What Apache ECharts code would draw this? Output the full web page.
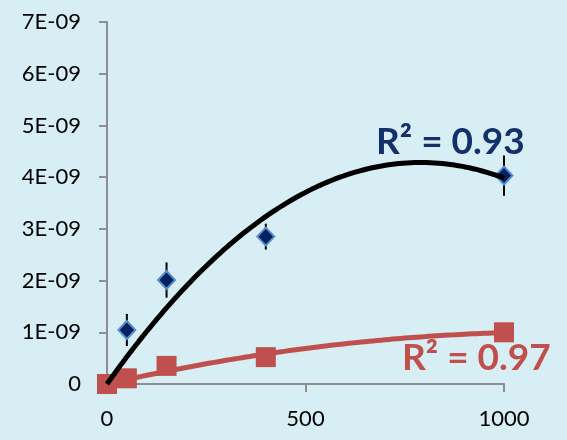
<!DOCTYPE html>
<html>
<head>
<meta charset="utf-8">
<script src="https://cdn.jsdelivr.net/npm/echarts@6/dist/echarts.min.js"></script>
<style>
  html, body { margin: 0; padding: 0; background: #D7EEF4; }
  #chart { width: 567px; height: 440px; }
</style>
</head>
<body>
<div id="chart"></div>
<script>
// Concentration levels (x) shared by both series
const xValues = [0, 50, 150, 400, 1000];

// Blue series: measured values with symmetric error
const blueValues = [0, 1.045e-9, 2.01e-9, 2.85e-9, 4.03e-9];
const blueErrors = [0, 0.31e-9, 0.34e-9, 0.25e-9, 0.39e-9];

// Red series: measured values
const redValues = [0, 0.11e-9, 0.35e-9, 0.52e-9, 1.0e-9];

// Trendline annotations
const blueR2Text = 'R² = 0.93';
const redR2Text = 'R² = 0.97';

// Axis settings
const xTicks = { min: 0, max: 1000, interval: 500 };
const yTicks = { min: 0, max: 7e-9, interval: 1e-9 };

const FONT = 'Lato';

// Least-squares fit of y = b x + c x^2 (intercept fixed at zero)
function quadFitZero(xs, ys) {
  let s2 = 0, s3 = 0, s4 = 0, t1 = 0, t2 = 0;
  for (let i = 0; i < xs.length; i++) {
    const x = xs[i], y = ys[i];
    s2 += x * x; s3 += x * x * x; s4 += x * x * x * x;
    t1 += x * y; t2 += x * x * y;
  }
  const det = s2 * s4 - s3 * s3;
  const b = (t1 * s4 - s3 * t2) / det;
  const c = (s2 * t2 - s3 * t1) / det;
  return [b, c];
}

function trendPoints(xs, ys) {
  const [b, c] = quadFitZero(xs, ys);
  const x0 = Math.min(...xs), x1 = Math.max(...xs);
  const pts = [];
  const n = 200;
  for (let i = 0; i <= n; i++) {
    const x = x0 + (x1 - x0) * i / n;
    pts.push([x, b * x + c * x * x]);
  }
  return pts;
}

function sciLabel(v) {
  if (Math.abs(v) < 1e-15) return '0';
  const parts = v.toExponential(0).split('e');
  const e = parseInt(parts[1], 10);
  return parts[0] + 'E' + (e < 0 ? '-' : '+') + String(Math.abs(e)).padStart(2, '0');
}

const bluePts = xValues.map((x, i) => [x, blueValues[i]]);
const redPts = xValues.map((x, i) => [x, redValues[i]]);
const errData = xValues.map((x, i) => [x, blueValues[i], blueErrors[i]]);

const chart = echarts.init(document.getElementById('chart'), null, { renderer: 'canvas' });

const axisLine = { show: true, lineStyle: { color: '#8E8E8E', width: 2 } };
const axisTick = { show: true, inside: false, length: 8, lineStyle: { color: '#8E8E8E', width: 2 } };

chart.setOption({
  backgroundColor: '#D7EEF4',
  animation: false,
  grid: { left: 107, top: 22, width: 397, height: 362, containLabel: false },
  xAxis: {
    type: 'value',
    min: xTicks.min, max: xTicks.max, interval: xTicks.interval,
    axisLine, axisTick,
    splitLine: { show: false },
    axisLabel: { color: '#000', fontFamily: FONT, fontSize: 22, margin: 24, formatter: v => String(v) }
  },
  yAxis: {
    type: 'value',
    min: yTicks.min, max: yTicks.max, interval: yTicks.interval,
    axisLine, axisTick,
    splitLine: { show: false },
    axisLabel: { color: '#000', fontFamily: FONT, fontSize: 22, margin: 26, formatter: sciLabel }
  },
  series: [
    {
      name: 'red trend', type: 'line', z: 2,
      data: trendPoints(xValues, redValues),
      showSymbol: false, smooth: false,
      lineStyle: { color: '#C0504D', width: 5 }
    },
    {
      name: 'blue error', type: 'custom', z: 3,
      data: errData,
      renderItem: function (params, api) {
        const x = api.value(0), y = api.value(1), e = api.value(2);
        if (!e) return null;
        const p1 = api.coord([x, y - e]);
        const p2 = api.coord([x, y + e]);
        return {
          type: 'line',
          shape: { x1: p1[0], y1: p1[1], x2: p2[0], y2: p2[1] },
          style: { stroke: '#000', lineWidth: 2 }
        };
      }
    },
    {
      name: 'blue', type: 'scatter', z: 4,
      data: bluePts, symbol: 'diamond', symbolSize: [17, 18],
      itemStyle: { color: '#002060', borderColor: '#5B8ED0', borderWidth: 2, opacity: 1 }
    },
    {
      name: 'red', type: 'scatter', z: 5,
      data: redPts, symbol: 'rect', symbolSize: 20,
      itemStyle: { color: '#C0504D', opacity: 1 }
    },
    {
      name: 'blue trend', type: 'line', z: 6,
      data: trendPoints(xValues, blueValues),
      showSymbol: false, smooth: false,
      lineStyle: { color: '#000000', width: 5 }
    }
  ],
  graphic: [
    {
      type: 'text', left: 376, top: 124, z: 10,
      style: { text: blueR2Text, fill: '#13306B', font: 'bold 37px ' + FONT }
    },
    {
      type: 'text', left: 402, top: 340, z: 10,
      style: { text: redR2Text, fill: '#C0504D', font: 'bold 37px ' + FONT }
    }
  ]
});
</script>
</body>
</html>
